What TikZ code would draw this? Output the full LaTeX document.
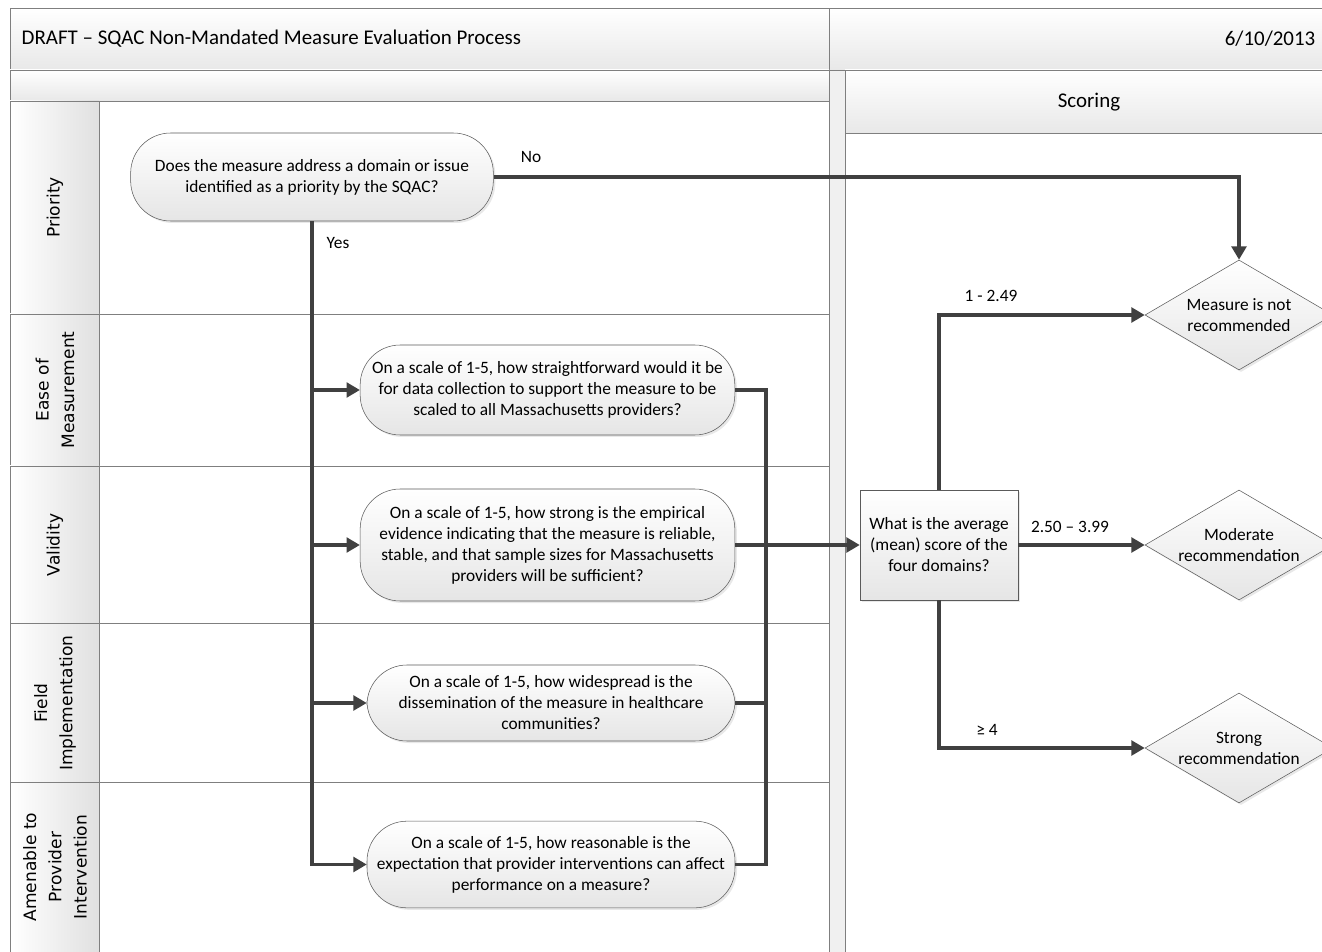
\documentclass[tikz,border=0pt]{standalone}
\usepackage{fontspec}
\setmainfont{Carlito}
\newfontfamily\lanefont{DejaVu Sans}
\usetikzlibrary{positioning,arrows.meta,shapes.geometric,shadows}
\definecolor{lineC}{HTML}{404040}
\definecolor{frameC}{HTML}{7F7F7F}
\definecolor{nodeC}{HTML}{5A5A5A}

\begin{document}
\begin{tikzpicture}[
  x=0.75pt, y=-0.75pt,
  font=\fontsize{13}{15.75}\selectfont,
  shd/.style={drop shadow={opacity=0.18, shadow xshift=1.5pt, shadow yshift=-1.5pt}},
  qn/.style={draw=nodeC, rounded corners=30pt, top color=white, bottom color=black!10,
             align=center, inner sep=1pt, shd},
  sq/.style={draw=nodeC, top color=white, bottom color=black!10, align=center,
             inner sep=1pt, minimum width=118.5pt, minimum height=82.5pt, shd},
  dm/.style={diamond, aspect=1.71, draw=nodeC, top color=white, bottom color=black!10,
             inner sep=0pt, minimum width=141pt, minimum height=82.5pt, align=center, shd},
  hd/.style={draw=frameC, top color=white, bottom color=black!9},
  lane/.style={rotate=90, align=center, font=\lanefont\fontsize{12.8}{19}\selectfont},
  big/.style={font=\fontsize{15.7}{18}\selectfont},
  fl/.style={-{Triangle[length=10pt, width=11pt]}, line width=2.8pt, draw=lineC},
  ln/.style={line width=2.8pt, draw=lineC}
]
\useasboundingbox (0,0) rectangle (1322,952);

% frame
\draw[hd] (10,8) rectangle (829,70);
\draw[hd] (829,8) rectangle (1340,70);
\node[big, anchor=west] (ttl) at (17,39) {DRAFT – SQAC Non-Mandated Measure Evaluation Process};
\node[big, anchor=east] (dt) at (1320,39) {6/10/2013};
\draw[hd] (10,70) rectangle (829,101);
\draw[draw=frameC, fill=black!6] (829,70) rectangle (845,960);
\draw[hd] (845,70) rectangle (1340,133);
\node[big] (sc) at (1089,102) {Scoring};
\draw[draw=frameC, fill=white] (845,133) rectangle (1340,960);
\foreach \ya/\yb/\yc/\txt [count=\i] in {101/314/207.5/Priority, 314/466/390/{Ease of\\Measurement},
    466/623/545/Validity, 623/782/703/{Field\\Implementation}, 782/960/867/{Amenable to\\Provider\\Intervention}}{
  \draw[draw=frameC, left color=white, right color=black!12] (10,\ya) rectangle (99,\yb);
  \draw[draw=frameC, fill=white] (99,\ya) rectangle (829,\yb);
  \node[lane] (lane\i) at (55,\yc) {\txt};
}

% questions
\node[qn, minimum width=272pt, minimum height=66pt] (q0) at (312,177)
  {Does the measure address a domain or issue\\identified as a priority by the SQAC?};
\node[qn, minimum width=281pt, minimum height=67.5pt] (q1) at (547.5,390)
  {On a scale of 1-5, how straightforward would it be\\for data collection to support the measure to be\\scaled to all Massachusetts providers?};
\node[qn, minimum width=281pt, minimum height=84pt] (q2) at (547.5,545)
  {On a scale of 1-5, how strong is the empirical\\evidence indicating that the measure is reliable,\\stable, and that sample sizes for Massachusetts\\providers will be sufficient?};
\node[qn, minimum width=276pt, minimum height=57pt] (q3) at (551,703)
  {On a scale of 1-5, how widespread is the\\dissemination of the measure in healthcare\\communities?};
\node[qn, minimum width=276pt, minimum height=65pt] (q4) at (551,864.5)
  {On a scale of 1-5, how reasonable is the\\expectation that provider interventions can affect\\performance on a measure?};

% scoring
\node[sq] (avg) at (939,545) {What is the average\\(mean) score of the\\four domains?};
\node[dm] (d1) at (1239,315) {Measure is not\\recommended};
\node[dm] (d2) at (1239,545) {Moderate\\recommendation};
\node[dm] (d3) at (1239,748) {Strong\\recommendation};

% connectors
\coordinate (bus) at (766,545);
\draw[fl] (q0.east) -| (d1.north);
\draw[fl] (q0.south) |- (q4.west);
\foreach \n in {q1,q2,q3} \draw[fl] (q0.south |- \n.west) -- (\n.west);
\draw[ln] (q1.east) -| (bus);
\draw[ln] (q4.east) -| (bus);
\draw[ln] (q3.east) -- (q3.east -| bus);
\draw[fl] (q2.east) -- (avg.west);
\draw[fl] (avg.north) |- (d1.west);
\draw[fl] (avg.east) -- (d2.west);
\draw[fl] (avg.south) |- (d3.west);

\node (no) at (531,157) {No};
\node (yes) at (338,243) {Yes};
\node (r1) at (991,296) {1 - 2.49};
\node (r2) at (1070,527) {2.50 – 3.99};
\node (r3) at (987,730) {≥ 4};
\end{tikzpicture}
\end{document}
